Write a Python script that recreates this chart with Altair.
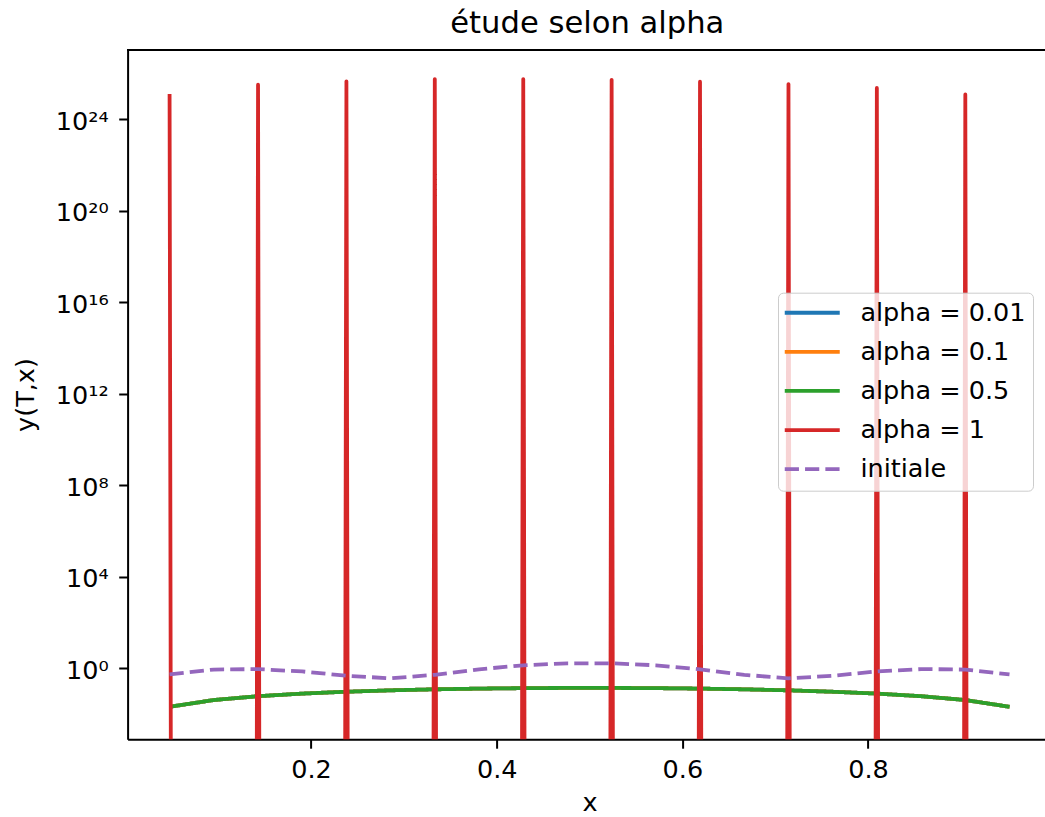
import altair as alt
import pandas as pd

# grid points
x_values = [0.0476, 0.0952, 0.1429, 0.1905, 0.2381, 0.2857, 0.3333, 0.3810, 0.4286, 0.4762,
            0.5238, 0.5714, 0.6190, 0.6667, 0.7143, 0.7619, 0.8095, 0.8571, 0.9048, 0.9524]

alpha_001 = [0.0209, 0.0413, 0.0607, 0.0789, 0.0952, 0.1095, 0.1212, 0.1303, 0.1365, 0.1396,
             0.1396, 0.1365, 0.1303, 0.1212, 0.1095, 0.0952, 0.0789, 0.0607, 0.0413, 0.0209]
alpha_01 = [0.0209, 0.0413, 0.0607, 0.0789, 0.0952, 0.1095, 0.1212, 0.1303, 0.1365, 0.1396,
            0.1396, 0.1365, 0.1303, 0.1212, 0.1095, 0.0952, 0.0789, 0.0607, 0.0413, 0.0209]
alpha_05 = [0.0209, 0.0413, 0.0607, 0.0789, 0.0952, 0.1095, 0.1212, 0.1303, 0.1365, 0.1396,
            0.1396, 0.1365, 0.1303, 0.1212, 0.1095, 0.0952, 0.0789, 0.0607, 0.0413, 0.0209]
alpha_1 = [1.26e25, -2.5e25, 3.2e25, -4.0e25, 4.5e25, -5.0e25, 5.6e25, -5.6e25, 5.6e25, -5.5e25,
           5.2e25, -4.8e25, 4.3e25, -3.8e25, 3.4e25, -2.8e25, 2.3e25, -1.7e25, 1.2e25, -0.6e25]
initiale = [0.545, 0.887, 0.929, 0.731, 0.475, 0.366, 0.523, 0.911, 1.361, 1.659,
            1.659, 1.361, 0.911, 0.523, 0.366, 0.475, 0.731, 0.929, 0.887, 0.545]

series_names = ["alpha = 0.01", "alpha = 0.1", "alpha = 0.5", "alpha = 1", "initiale"]
series_colors = ["#1f77b4", "#ff7f0e", "#2ca02c", "#d62728", "#9467bd"]
series_dashes = [[1, 0], [1, 0], [1, 0], [1, 0], [14.2, 6.1]]

y_tick_values = [0, 4, 8, 12, 16, 20, 24]
y_tick_labels = ["10⁰", "10⁴", "10⁸", "10¹²", "10¹⁶", "10²⁰", "10²⁴"]
x_tick_values = [0.2, 0.4, 0.6, 0.8]

rows = []
for name, vals in zip(series_names, [alpha_001, alpha_01, alpha_05, alpha_1, initiale]):
    for xv, yv in zip(x_values, vals):
        rows.append({"series": name, "x": xv, "y": yv})
df = pd.DataFrame(rows)

label_expr = ""
for v, lab in zip(y_tick_values, y_tick_labels):
    label_expr += f"datum.value == {v} ? '{lab}' : "
label_expr += "''"

W = 917.4
H = 689.3
FONT = "DejaVu Sans"
FS = 25.5
LW = 3.8

legend_kw = dict(title=None, orient="none", legendX=650.4, legendY=242.7,
                 symbolType="M-4.583,0H4.583", symbolSize=144, symbolStrokeWidth=LW,
                 symbolOffset=14.2, labelOffset=35.4, rowPadding=12.1, labelLimit=400,
                 labelFontSize=FS, labelFont=FONT, labelColor="black",
                 fillColor="rgba(255,255,255,0.8)", strokeColor="#cccccc",
                 cornerRadius=5, padding=7.3)

lines = alt.Chart(df).transform_calculate(
    ly="datum.y > 0 ? log(datum.y) / LN10 : -1000"
).mark_line(clip=True, strokeWidth=LW, strokeJoin="round", strokeCap="butt").encode(
    x=alt.X("x:Q",
            scale=alt.Scale(domain=[0.002381, 0.99064], nice=False, zero=False),
            axis=alt.Axis(values=x_tick_values, format=".1f", title="x",
                          titleX=462, titleY=70.7, titleBaseline="alphabetic", titleAlign="center",
                          titleFontSize=FS, titleFont=FONT, titleFontWeight="normal", titleColor="black",
                          labelFontSize=FS, labelFont=FONT, labelColor="black", labelPadding=8.8,
                          tickSize=8.9, tickWidth=2, tickColor="black",
                          domainColor="black", domainWidth=2, grid=False)),
    y=alt.Y("ly:Q",
            scale=alt.Scale(domain=[-3.10, 27.02], nice=False, zero=False),
            axis=alt.Axis(values=y_tick_values, labelExpr=label_expr, title="y(T,x)",
                          titleX=-89.6, titleY=344.5, titleAngle=270, titleBaseline="bottom",
                          titleAlign="center",
                          titleFontSize=FS, titleFont=FONT, titleFontWeight="normal", titleColor="black",
                          labelFontSize=FS, labelFont=FONT, labelColor="black", labelPadding=10.5,
                          labelOffset=2,
                          tickSize=8.9, tickWidth=2, tickColor="black",
                          domainColor="black", domainWidth=2, grid=False)),
    color=alt.Color("series:N",
                    scale=alt.Scale(domain=series_names, range=series_colors),
                    legend=alt.Legend(**legend_kw)),
    strokeDash=alt.StrokeDash("series:N",
                              scale=alt.Scale(domain=series_names, range=series_dashes),
                              legend=alt.Legend(**legend_kw)),
    detail="series:N",
)

top_frame = alt.Chart(df).mark_rule(color="black", strokeWidth=2).encode(
    x=alt.value(0), x2=alt.value(W), y=alt.value(0)
)

chart = alt.layer(lines, top_frame).properties(
    width=W, height=H,
    title=alt.TitleParams("étude selon alpha", fontSize=30.6, font=FONT, fontWeight="normal",
                          color="black", anchor="middle", baseline="alphabetic", offset=19,
                          dx=1, dy=34),
    autosize=alt.AutoSizeParams(type="none"),
    padding={"left": 127.6, "top": 50, "right": 0, "bottom": 77.7},
).configure_view(stroke=None).configure(background="white")

chart.save("out.html", embed_options={"renderer": "svg", "actions": False})
